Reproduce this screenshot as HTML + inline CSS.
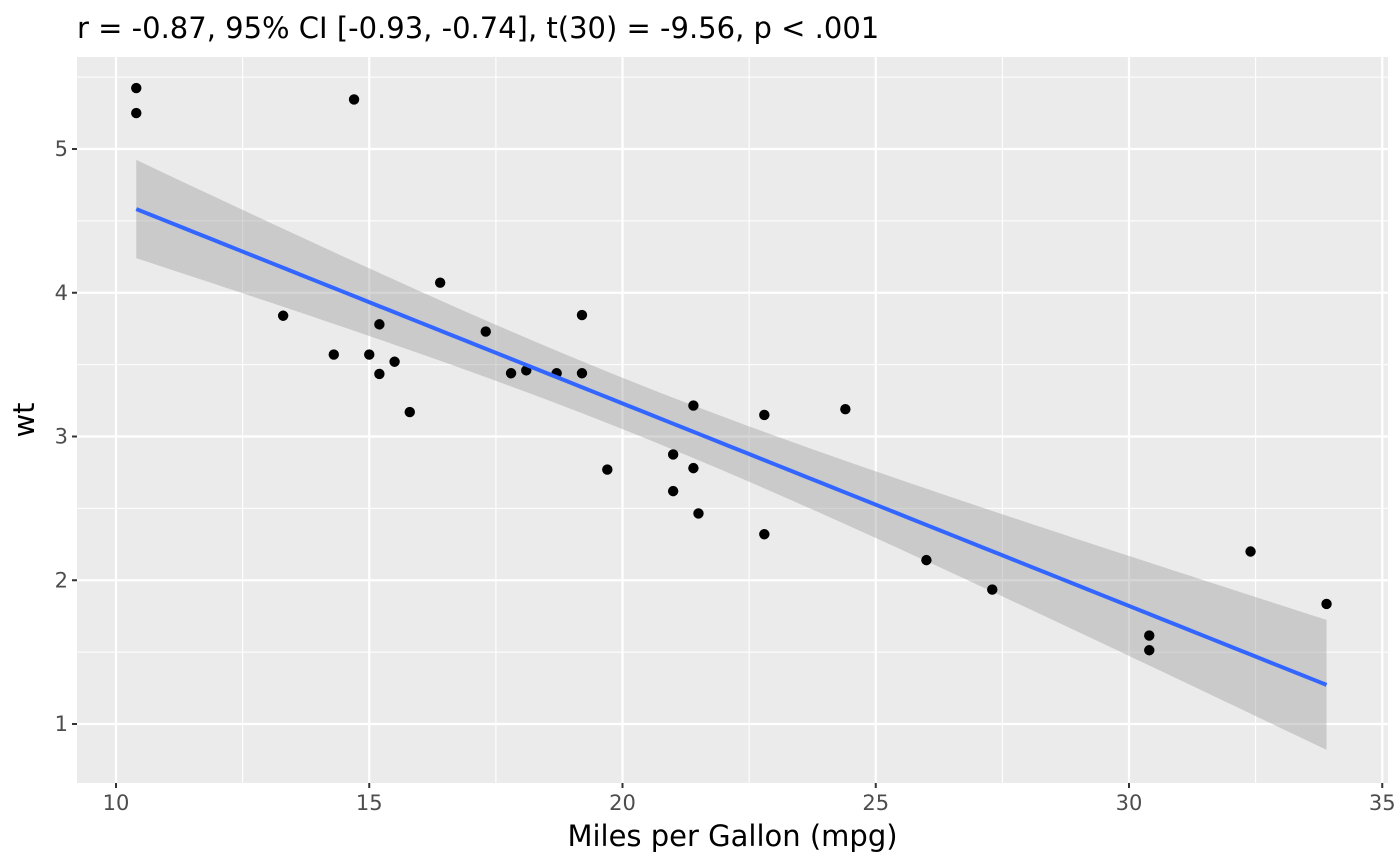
<!DOCTYPE html>
<html><head><meta charset="utf-8"><style>
html,body{margin:0;padding:0;background:#fff;}
svg{display:block;font-family:"DejaVu Sans","Liberation Sans",sans-serif;}
</style></head><body>
<svg id="chart" width="1400" height="866" viewBox="0 0 1400 866"></svg>
<script>
const mpgValues=[21.0,21.0,22.8,21.4,18.7,18.1,14.3,24.4,22.8,19.2,17.8,16.4,17.3,15.2,10.4,10.4,14.7,32.4,30.4,33.9,21.5,15.5,15.2,13.3,19.2,27.3,26.0,30.4,15.8,19.7,15.0,21.4];
const wtValues=[2.620,2.875,2.320,3.215,3.440,3.460,3.570,3.190,3.150,3.440,3.440,4.070,3.730,3.780,5.250,5.424,5.345,2.200,1.615,1.835,2.465,3.520,3.435,3.840,3.845,1.935,2.140,1.513,3.170,2.770,3.570,2.780];
const xTicks=[10,15,20,25,30,35];
const yTicks=[1,2,3,4,5];
const xMinor=[12.5,17.5,22.5,27.5,32.5];
const yMinor=[1.5,2.5,3.5,4.5,5.5];
const titleText="r = -0.87, 95% CI [-0.93, -0.74], t(30) = -9.56, p < .001";

const NS="http://www.w3.org/2000/svg";
const svg=document.getElementById('chart');
const P={l:77,r:1388,t:57,b:783};
const xs=v=>116+(v-10)*50.65;
const ys=v=>724-(v-1)*143.75;
function mk(tag,attrs,parent){const e=document.createElementNS(NS,tag);for(const k in attrs)e.setAttribute(k,attrs[k]);(parent||svg).appendChild(e);return e;}

const panel=mk('rect',{x:P.l,y:P.t,width:P.r-P.l,height:P.b-P.t,fill:'#ebebeb'});



xMinor.forEach(v=>{const l=mk('line',{x1:xs(v),x2:xs(v),y1:P.t,y2:P.b,stroke:'#fff','stroke-width':1.1});

});
yMinor.forEach(v=>{const l=mk('line',{x1:P.l,x2:P.r,y1:ys(v),y2:ys(v),stroke:'#fff','stroke-width':1.1});

});
xTicks.forEach(v=>{const l=mk('line',{x1:xs(v),x2:xs(v),y1:P.t,y2:P.b,stroke:'#fff','stroke-width':2.2});


const t=mk('line',{x1:xs(v),x2:xs(v),y1:P.b,y2:P.b+5,stroke:'#333','stroke-width':2});


const tx=mk('text',{x:xs(v),y:P.b+27,'text-anchor':'middle','font-size':21,fill:'#4d4d4d'});tx.textContent=v;

});
yTicks.forEach(v=>{const l=mk('line',{x1:P.l,x2:P.r,y1:ys(v),y2:ys(v),stroke:'#fff','stroke-width':2.2});


const t=mk('line',{x1:P.l-5,x2:P.l,y1:ys(v),y2:ys(v),stroke:'#333','stroke-width':2});


const tx=mk('text',{x:P.l-9,y:ys(v)+7,'text-anchor':'end','font-size':21,fill:'#4d4d4d'});tx.textContent=v;

});

const n=mpgValues.length;
const mx=mpgValues.reduce((a,b)=>a+b,0)/n, my=wtValues.reduce((a,b)=>a+b,0)/n;
let sxx=0,sxy=0;for(let i=0;i<n;i++){sxx+=(mpgValues[i]-mx)**2;sxy+=(mpgValues[i]-mx)*(wtValues[i]-my);}
const b=sxy/sxx,a=my-b*mx;
let sse=0;for(let i=0;i<n;i++)sse+=(wtValues[i]-a-b*mpgValues[i])**2;
const s=Math.sqrt(sse/(n-2)),tc=2.042;
const x0=Math.min(...mpgValues),x1=Math.max(...mpgValues);
const up=[],lo=[],fit=[];
for(let k=0;k<=80;k++){const x=x0+(x1-x0)*k/80;const f=a+b*x;const se=s*Math.sqrt(1/n+(x-mx)**2/sxx);
up.push(xs(x)+','+ys(f+tc*se));lo.unshift(xs(x)+','+ys(f-tc*se));fit.push(xs(x)+','+ys(f));}
const band=mk('polygon',{points:up.concat(lo).join(' '),fill:'#999','fill-opacity':0.4});



for(let i=0;i<n;i++){const c=mk('circle',{cx:xs(mpgValues[i]),cy:ys(wtValues[i]),r:5.2,fill:'#000'});

}

const line=mk('polyline',{points:fit.join(' '),fill:'none',stroke:'#3366ff','stroke-width':4});



const title=mk('text',{x:77,y:38,'font-size':29,fill:'#000'});title.textContent=titleText;


const xt=mk('text',{x:(P.l+P.r)/2,y:846,'text-anchor':'middle','font-size':29,fill:'#000'});xt.textContent='Miles per Gallon (mpg)';


const yt=mk('text',{x:0,y:0,'text-anchor':'middle','font-size':29,fill:'#000'});yt.textContent='wt';


yt.setAttribute('transform','translate(34 '+((P.t+P.b)/2)+') rotate(-90)');
</script>
</body></html>
